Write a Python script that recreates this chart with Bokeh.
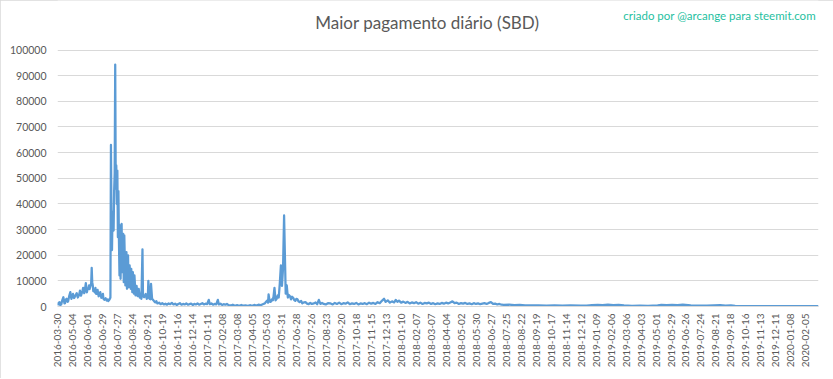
import math
from bokeh.plotting import figure
from bokeh.models import Range1d, FixedTicker, Label, NumeralTickFormatter
from bokeh.embed import file_html
from bokeh.resources import INLINE

title_text = "Maior pagamento diário (SBD)"
credit_text = "criado por @arcange para steemit.com"

tick_labels = [
    "2016-03-30", "2016-05-04", "2016-06-01", "2016-06-29", "2016-07-27", "2016-08-24",
    "2016-09-21", "2016-10-19", "2016-11-16", "2016-12-14", "2017-01-11", "2017-02-08",
    "2017-03-08", "2017-04-05", "2017-05-03", "2017-05-31", "2017-06-28", "2017-07-26",
    "2017-08-23", "2017-09-20", "2017-10-18", "2017-11-15", "2017-12-13", "2018-01-10",
    "2018-02-07", "2018-03-07", "2018-04-04", "2018-05-02", "2018-05-30", "2018-06-27",
    "2018-07-25", "2018-08-22", "2018-09-19", "2018-10-17", "2018-11-14", "2018-12-12",
    "2019-01-09", "2019-02-06", "2019-03-06", "2019-04-03", "2019-05-01", "2019-05-29",
    "2019-06-26", "2019-07-24", "2019-08-21", "2019-09-18", "2019-10-16", "2019-11-13",
    "2019-12-11", "2020-01-08", "2020-02-05",
]
label_step = 28  # categories between labels
n_days = 1425

y_ticks = [0, 10000, 20000, 30000, 40000, 50000, 60000, 70000, 80000, 90000, 100000]

# day index (category number from 2016-03-30) and max daily payout (SBD)
day_index = [
    0, 2, 4, 5, 7, 9, 11, 13, 14, 16, 17, 19, 20, 22, 24, 26, 27, 29, 31, 32,
    34, 36, 38, 39, 41, 42, 44, 45, 47, 48, 50, 51, 53, 55, 56, 58, 59, 60, 61, 63,
    64, 65, 66, 67, 68, 70, 71, 72, 73, 74, 75, 77, 78, 79, 80, 82, 83, 84, 85, 86,
    88, 90, 92, 94, 95, 97, 98, 99, 100, 101, 102, 103, 104, 105, 106, 107, 108, 109, 110, 111,
    112, 113, 114, 115, 116, 117, 118, 120, 121, 123, 124, 125, 127, 129, 130, 132, 133, 135, 137, 138,
    140, 141, 143, 144, 146, 148, 150, 152, 154, 156, 157, 159, 160, 162, 165, 167, 169, 170, 172, 174,
    175, 177, 179, 181, 183, 185, 187, 190, 193, 196, 199, 202, 205, 208, 211, 214, 217, 220, 223, 226,
    229, 232, 235, 238, 241, 244, 247, 250, 253, 256, 259, 262, 265, 268, 271, 274, 277, 280, 283, 285,
    288, 291, 294, 297, 300, 302, 305, 308, 311, 314, 317, 320, 324, 328, 332, 336, 340, 344, 348, 352,
    356, 360, 364, 368, 372, 376, 380, 384, 388, 390, 392, 394, 395, 397, 399, 401, 403, 404, 406, 408,
    410, 412, 414, 416, 418, 420, 422, 424, 426, 427, 429, 431, 433, 435, 437, 439, 441, 443, 445, 447,
    449, 451, 453, 456, 458, 461, 464, 467, 470, 473, 476, 480, 483, 486, 489, 492, 495, 498, 502, 506,
    511, 515, 519, 523, 527, 531, 535, 539, 543, 547, 551, 555, 559, 563, 567, 571, 575, 579, 583, 587,
    591, 595, 599, 603, 607, 611, 614, 618, 622, 626, 630, 633, 636, 639, 643, 647, 651, 655, 659, 663,
    667, 671, 675, 679, 683, 687, 691, 695, 699, 703, 707, 711, 715, 719, 723, 727, 731, 735, 739, 743,
    747, 751, 755, 759, 763, 767, 771, 775, 779, 783, 787, 791, 795, 799, 803, 807, 811, 815, 819, 823,
    827, 831, 835, 845, 855, 865, 875, 885, 900, 915, 930, 945, 960, 979, 990, 1000, 1011, 1020, 1030, 1040,
    1050, 1060, 1075, 1090, 1105, 1123, 1130, 1140, 1150, 1160, 1170, 1185, 1200, 1215, 1228, 1240, 1250, 1260, 1268, 1300,
    1350, 1400, 1424,
]
max_payout = [
    400, 1500, 1700, 600, 800, 2500, 3600, 1200, 1300, 2800, 3000, 1800, 2100, 4200, 5600, 3000, 3600, 4900, 3300, 3600,
    4500, 5200, 3500, 3900, 5000, 6200, 4200, 4900, 6300, 7300, 5200, 6000, 9100, 5500, 6500, 7000, 8200, 6800, 7500, 9000,
    15100, 9500, 8200, 6000, 6200, 5500, 7300, 5000, 4900, 6000, 6500, 4000, 4300, 5000, 5600, 3400, 3600, 4200, 4900, 3000,
    2600, 3200, 2300, 2800, 2100, 2600, 3000, 3500, 63000, 36000, 22000, 37000, 30000, 29600, 45000, 52000, 94300, 46000, 55000, 40000,
    53000, 27000, 45000, 25000, 12100, 31600, 10800, 32200, 13400, 28300, 9500, 27700, 8200, 21200, 6900, 19900, 7500, 16000, 6900, 14700,
    5600, 13400, 5000, 12100, 4300, 8000, 4000, 6900, 3500, 4500, 3000, 22300, 4000, 3600, 4900, 3000, 3500, 10000, 3000, 2800,
    8800, 3000, 2500, 2000, 1600, 2100, 1200, 1500, 900, 1300, 800, 1100, 700, 1200, 900, 1400, 800, 1100, 600, 1000,
    1300, 700, 1000, 800, 1200, 700, 900, 1100, 600, 1000, 800, 1200, 700, 1000, 1300, 800, 1100, 900, 2600, 900,
    1200, 700, 1000, 800, 2600, 800, 1100, 600, 900, 700, 1000, 500, 400, 700, 300, 500, 300, 600, 300, 400,
    250, 500, 300, 600, 400, 700, 500, 900, 1200, 1800, 2300, 1500, 4700, 2000, 1800, 2800, 2400, 3500, 7300, 2400,
    3000, 4300, 3500, 9100, 16000, 8000, 14700, 35500, 15300, 5000, 8200, 3500, 4500, 4000, 2800, 3800, 3400, 2500, 2200, 3000,
    2800, 2000, 1700, 2200, 1200, 1600, 1700, 1100, 900, 1400, 1000, 1200, 1600, 900, 2600, 1000, 1400, 1000, 800, 1300,
    1200, 800, 1400, 1000, 1500, 900, 1300, 1100, 1600, 900, 1200, 1000, 1400, 800, 1200, 1000, 1300, 900, 1500, 1100,
    1400, 1000, 1700, 1300, 2200, 3000, 1800, 2400, 1500, 2000, 1600, 2600, 1800, 2300, 1500, 1900, 1400, 1800, 1200, 1600,
    1300, 1700, 1100, 1500, 1000, 1400, 1200, 1500, 1000, 1300, 900, 1200, 1000, 1400, 1100, 1500, 1200, 1600, 2000, 1300,
    1500, 1000, 1300, 1100, 1400, 1000, 1200, 900, 1300, 1000, 1200, 900, 1100, 1300, 1000, 1400, 1700, 1000, 1100, 800,
    1000, 700, 650, 700, 500, 650, 450, 400, 450, 350, 450, 350, 400, 350, 300, 500, 650, 500, 700, 550,
    650, 400, 250, 300, 250, 400, 600, 500, 650, 550, 700, 450, 300, 300, 400, 500, 350, 400, 200, 150,
    150, 150, 150,
]

FONT = "Lato"
GREY = "#595959"

# frame spans from page top to the zero line; value range extended so
# that 100000 sits where the reference's top gridline is
frame_h = 306
y_top = 100000 * frame_h / 256.5

p = figure(
    width=833, height=378,
    output_backend="svg", toolbar_location=None,
    x_range=Range1d(0, n_days - 1), y_range=Range1d(0, y_top),
    min_border_left=57, min_border_right=15, min_border_top=0, min_border_bottom=72,
)
p.outline_line_color = None
p.background_fill_color = "white"
p.border_fill_color = "white"
p.styles = {"outline": "1px solid #d9d9d9", "outline-offset": "-1px"}

p.line(day_index, max_payout, line_color="#5B9BD5", line_width=2.25, line_join="round")

# y axis
p.yaxis.ticker = FixedTicker(ticks=y_ticks)
p.yaxis.formatter = NumeralTickFormatter(format="0")
p.yaxis.axis_line_color = None
p.yaxis.major_tick_line_color = None
p.yaxis.minor_tick_line_color = None
p.yaxis.major_tick_out = 0
p.yaxis.minor_tick_out = 0
p.yaxis.major_label_standoff = 11
p.yaxis.major_label_text_font = FONT
p.yaxis.major_label_text_font_size = "10.5px"
p.yaxis.major_label_text_color = GREY

# x axis
tick_pos = [i * label_step for i in range(len(tick_labels))]
p.xaxis.ticker = FixedTicker(ticks=tick_pos)
p.xaxis.major_label_overrides = {pos: lab for pos, lab in zip(tick_pos, tick_labels)}
p.xaxis.major_label_orientation = math.pi / 2
p.xaxis.axis_line_color = "#d9d9d9"
p.xaxis.axis_line_width = 1
p.xaxis.major_tick_line_color = None
p.xaxis.minor_tick_line_color = None
p.xaxis.major_tick_out = 0
p.xaxis.minor_tick_out = 0
p.xaxis.major_label_standoff = 7
p.xaxis.major_label_text_font = FONT
p.xaxis.major_label_text_font_size = "10px"
p.xaxis.major_label_text_color = GREY

p.xgrid.visible = False
p.ygrid.grid_line_color = "#d9d9d9"
p.ygrid.grid_line_width = 1

# title and credit
p.add_layout(Label(x=692, y=110700, text=title_text, text_align="center",
                   text_baseline="middle", text_font=FONT, text_font_size="17px",
                   text_color=GREY))
p.add_layout(Label(x=1419, y=113600, text=credit_text, text_align="right",
                   text_baseline="middle", text_font=FONT, text_font_size="11.5px",
                   text_color="#1fbf9f"))

open("out.html", "w").write(file_html(p, INLINE))
